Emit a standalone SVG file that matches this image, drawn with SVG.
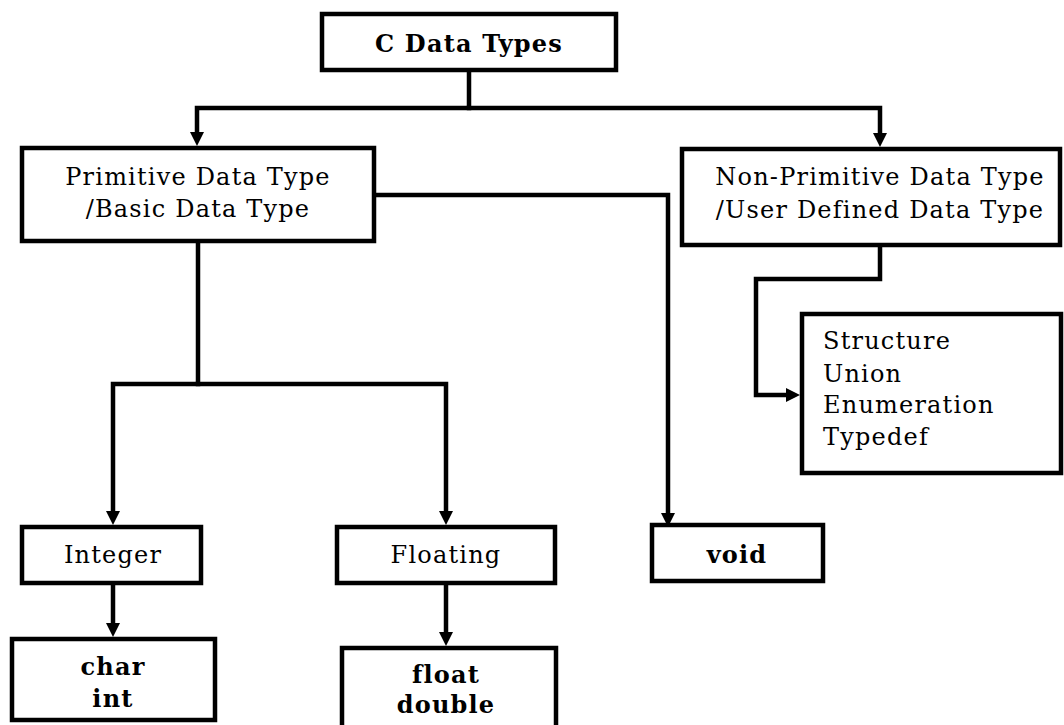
<svg xmlns="http://www.w3.org/2000/svg" width="1064" height="725" viewBox="0 0 1064 725">
<style>
.box{fill:#fff;stroke:#000;stroke-width:4.5}
.t{font-family:"DejaVu Serif","Liberation Serif",serif;font-size:24px;letter-spacing:1.2px;fill:#000}
.b{font-weight:bold}
.m{text-anchor:middle}
.c{fill:none;stroke:#000;stroke-width:4.5;stroke-linejoin:miter;stroke-linecap:square}
</style>
<defs>
<marker id="ah" markerUnits="userSpaceOnUse" markerWidth="16" markerHeight="16" refX="4" refY="7" orient="auto">
<path d="M0,0 L14,7 L0,14 z" fill="#000"/>
</marker>
</defs>
<rect width="1064" height="725" fill="#fff"/>
<g id="connectors">
<path class="c" d="M469,70 V108 H197 V136" marker-end="url(#ah)"/>
<path class="c" d="M469,108 H880 V137" marker-end="url(#ah)"/>
<path class="c" d="M374,195 H668 V517" marker-end="url(#ah)"/>
<path class="c" d="M198,241 V384 H113 V515" marker-end="url(#ah)"/>
<path class="c" d="M198,384 H446 V515" marker-end="url(#ah)"/>
<path class="c" d="M113,583 V627" marker-end="url(#ah)"/>
<path class="c" d="M446,583 V636" marker-end="url(#ah)"/>
<path class="c" d="M880,245 V279 H756 V395 H790" marker-end="url(#ah)"/>
</g>
<g id="n-root">
<rect class="box" x="322" y="14" width="294" height="56"/>
<text class="t b m" x="469" y="52">C Data Types</text>
</g>
<g id="n-primitive">
<rect class="box" x="22" y="148" width="352" height="93"/>
<text class="t m" x="198" y="185">Primitive Data Type</text>
<text class="t m" x="198" y="217">/Basic Data Type</text>
</g>
<g id="n-nonprimitive">
<rect class="box" x="682" y="149" width="378" height="96"/>
<text class="t m" x="880" y="185">Non-Primitive Data Type</text>
<text class="t m" x="880" y="218">/User Defined Data Type</text>
</g>
<g id="n-structure">
<rect class="box" x="802" y="314" width="259" height="159"/>
<text class="t" x="823" y="349">Structure</text>
<text class="t" x="823" y="382">Union</text>
<text class="t" x="823" y="413">Enumeration</text>
<text class="t" x="823" y="445">Typedef</text>
</g>
<g id="n-integer">
<rect class="box" x="22" y="527" width="179" height="56"/>
<text class="t m" x="113" y="563">Integer</text>
</g>
<g id="n-floating">
<rect class="box" x="337" y="527" width="218" height="56"/>
<text class="t m" x="446" y="563">Floating</text>
</g>
<g id="n-void">
<rect class="box" x="652" y="525" width="171" height="56"/>
<text class="t b m" x="737" y="563">void</text>
</g>
<g id="n-char">
<rect class="box" x="12" y="639" width="203" height="81"/>
<text class="t b m" x="113" y="675">char</text>
<text class="t b m" x="113" y="707">int</text>
</g>
<g id="n-float">
<rect class="box" x="342" y="648" width="214" height="85"/>
<text class="t b m" x="446" y="683">float</text>
<text class="t b m" x="446" y="713">double</text>
</g>
</svg>
